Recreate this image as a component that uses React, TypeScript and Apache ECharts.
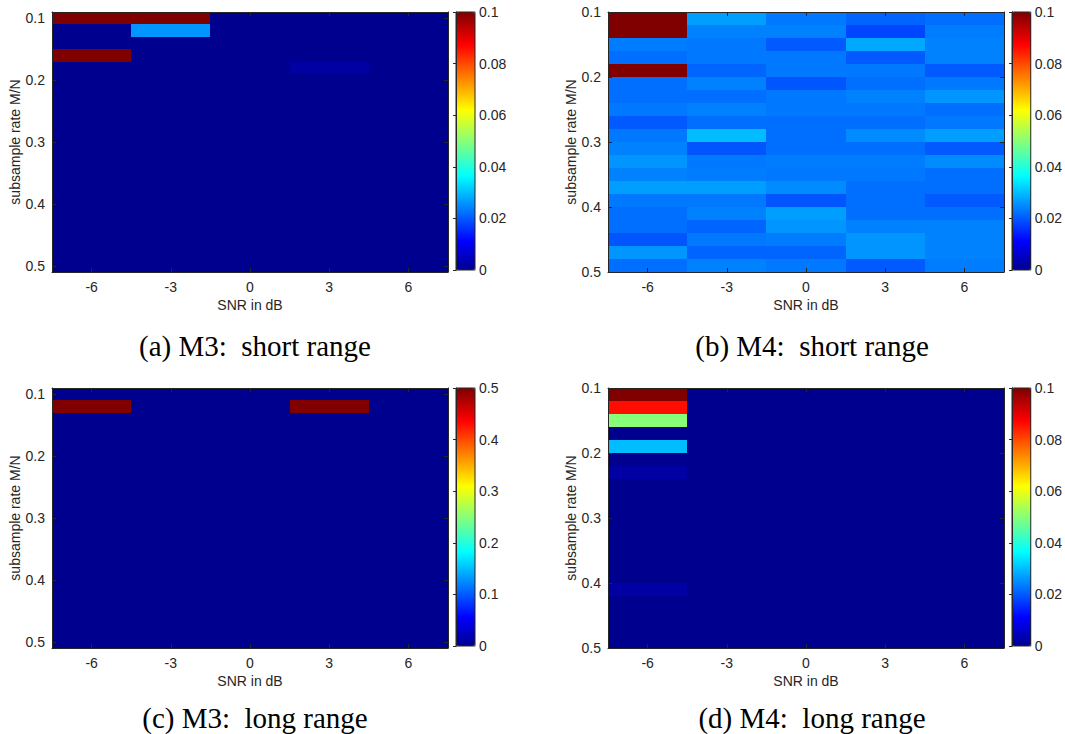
import React, { useEffect, useRef } from "react";
import * as echarts from "echarts";

// ---------- data ----------
const snr = [-6, -3, 0, 3, 6];
const snrTicks = [-6, -3, 0, 3, 6];
const rateTicks = [0.1, 0.2, 0.3, 0.4, 0.5];

// M3 panels: 21 rows centred on these rates
const ratesM3 = [0.1, 0.12, 0.14, 0.16, 0.18, 0.2, 0.22, 0.24, 0.26, 0.28, 0.3, 0.32, 0.34, 0.36, 0.38, 0.4, 0.42, 0.44, 0.46, 0.48, 0.5];
// M4 panels: 20 rows centred on these rates
const ratesM4 = [0.11, 0.13, 0.15, 0.17, 0.19, 0.21, 0.23, 0.25, 0.27, 0.29, 0.31, 0.33, 0.35, 0.37, 0.39, 0.41, 0.43, 0.45, 0.47, 0.49];

// rows top -> bottom, columns SNR -6, -3, 0, 3, 6
const m3Short = [
  [0.1, 0.1, 0, 0, 0],
  [0, 0.026, 0, 0, 0],
  [0, 0, 0, 0, 0],
  [0.1, 0, 0, 0, 0],
  [0, 0, 0, 0.002, 0],
  [0, 0, 0, 0, 0],
  [0, 0, 0, 0, 0],
  [0, 0, 0, 0, 0],
  [0, 0, 0, 0, 0],
  [0, 0, 0, 0, 0],
  [0, 0, 0, 0, 0],
  [0, 0, 0, 0, 0],
  [0, 0, 0, 0, 0],
  [0, 0, 0, 0, 0],
  [0, 0, 0, 0, 0],
  [0, 0, 0, 0, 0],
  [0, 0, 0, 0, 0],
  [0, 0, 0, 0, 0],
  [0, 0, 0, 0, 0],
  [0, 0, 0, 0, 0],
  [0, 0, 0, 0, 0],
];

const m4Short = [
  [0.1, 0.027, 0.023, 0.021, 0.022],
  [0.1, 0.024, 0.024, 0.018, 0.0235],
  [0.0235, 0.023, 0.02, 0.028, 0.024],
  [0.022, 0.023, 0.023, 0.02, 0.024],
  [0.1, 0.021, 0.023, 0.023, 0.02],
  [0.022, 0.024, 0.0195, 0.022, 0.023],
  [0.022, 0.022, 0.023, 0.024, 0.026],
  [0.023, 0.024, 0.023, 0.023, 0.022],
  [0.02, 0.022, 0.022, 0.022, 0.023],
  [0.023, 0.03, 0.022, 0.025, 0.027],
  [0.024, 0.0195, 0.022, 0.022, 0.02],
  [0.026, 0.023, 0.0235, 0.0235, 0.025],
  [0.024, 0.0235, 0.023, 0.023, 0.022],
  [0.027, 0.027, 0.025, 0.022, 0.022],
  [0.023, 0.023, 0.0195, 0.022, 0.02],
  [0.022, 0.024, 0.027, 0.022, 0.022],
  [0.022, 0.021, 0.026, 0.024, 0.024],
  [0.0195, 0.023, 0.0235, 0.026, 0.024],
  [0.026, 0.021, 0.021, 0.026, 0.024],
  [0.022, 0.024, 0.023, 0.02, 0.0235],
];

const m3Long = [
  [0, 0, 0, 0, 0],
  [0.5, 0, 0, 0.5, 0],
  [0, 0, 0, 0, 0],
  [0, 0, 0, 0, 0],
  [0, 0, 0, 0, 0],
  [0, 0, 0, 0, 0],
  [0, 0, 0, 0, 0],
  [0, 0, 0, 0, 0],
  [0, 0, 0, 0, 0],
  [0, 0, 0, 0, 0],
  [0, 0, 0, 0, 0],
  [0, 0, 0, 0, 0],
  [0, 0, 0, 0, 0],
  [0, 0, 0, 0, 0],
  [0, 0, 0, 0, 0],
  [0, 0, 0, 0, 0],
  [0, 0, 0, 0, 0],
  [0, 0, 0, 0, 0],
  [0, 0, 0, 0, 0],
  [0, 0, 0, 0, 0],
  [0, 0, 0, 0, 0],
];

const m4Long = [
  [0.1, 0, 0, 0, 0],
  [0.086, 0, 0, 0, 0],
  [0.05, 0, 0, 0, 0],
  [0, 0, 0, 0, 0],
  [0.03, 0, 0, 0, 0],
  [0, 0, 0, 0, 0],
  [0.002, 0, 0, 0, 0],
  [0, 0, 0, 0, 0],
  [0, 0, 0, 0, 0],
  [0, 0, 0, 0, 0],
  [0, 0, 0, 0, 0],
  [0, 0, 0, 0, 0],
  [0, 0, 0, 0, 0],
  [0, 0, 0, 0, 0],
  [0, 0, 0, 0, 0],
  [0.002, 0, 0, 0, 0],
  [0, 0, 0, 0, 0],
  [0, 0, 0, 0, 0],
  [0, 0, 0, 0, 0],
  [0, 0, 0, 0, 0],
];

const colorMaxes = [0.1, 0.1, 0.5, 0.1];
const colorIntervals = [0.02, 0.02, 0.1, 0.02];
const captions = ["(a) M3:  short range", "(b) M4:  short range", "(c) M3:  long range", "(d) M4:  long range"];

// ---------- MATLAB jet(64) colormap ----------
function jetColors(m: number): string[] {
  const n = Math.ceil(m / 4);
  const u: number[] = [];
  for (let i = 1; i <= n; i++) u.push(i / n);
  for (let i = 1; i < n; i++) u.push(1);
  for (let i = n; i >= 1; i--) u.push(i / n);
  const off = Math.ceil(n / 2) - (m % 4 === 1 ? 1 : 0);
  const rgb: number[][] = [];
  for (let i = 0; i < m; i++) rgb.push([0, 0, 0]);
  for (let k = 0; k < u.length; k++) {
    const g = off + k + 1;
    const r = g + n;
    const b = g - n;
    if (g >= 1 && g <= m) rgb[g - 1][1] = u[k];
    if (r >= 1 && r <= m) rgb[r - 1][0] = u[k];
    if (b >= 1 && b <= m) rgb[b - 1][2] = u[k];
  }
  const hex = (v: number) => Math.round(v * 255).toString(16).padStart(2, "0");
  return rgb.map((c) => "#" + hex(c[0]) + hex(c[1]) + hex(c[2]));
}
const JET = jetColors(64);

// ---------- layout ----------
const AX = "#262626";
const FONT = "Liberation Sans";
const panels = [
  { left: 52, top: 12, rates: ratesM3, values: m3Short, yMin: 0.09, yMax: 0.51 },
  { left: 608, top: 12, rates: ratesM4, values: m4Short, yMin: 0.1, yMax: 0.5 },
  { left: 52, top: 388, rates: ratesM3, values: m3Long, yMin: 0.09, yMax: 0.51 },
  { left: 608, top: 388, rates: ratesM4, values: m4Long, yMin: 0.1, yMax: 0.5 },
];
const PW = 396;
const PH = 260;
const CB_GAP = 404; // from plot left to colorbar left
const CBW = 19;
const CBH = 258;

function buildOption() {
  const grid: any[] = [];
  const xAxis: any[] = [];
  const yAxis: any[] = [];
  const series: any[] = [];
  const visualMap: any[] = [];
  const graphic: any[] = [];

  panels.forEach((p) => {
    grid.push({ left: p.left, top: p.top, width: PW, height: PH, show: false });
  });
  panels.forEach((p) => {
    grid.push({
      left: p.left + CB_GAP,
      top: p.top,
      width: CBW,
      height: CBH,
      show: true,
      borderColor: AX,
      borderWidth: 1,
      backgroundColor: "transparent",
      z: 10,
    });
  });

  panels.forEach((p, i) => {
    const dx = (snr[1] - snr[0]) / 2;
    const xBase = {
      type: "value",
      gridIndex: i,
      min: snr[0] - dx,
      max: snr[snr.length - 1] + dx,
      z: 10,
      axisLine: { show: true, onZero: false, lineStyle: { color: AX, width: 1 } },
      axisTick: { show: true, inside: true, length: 4, customValues: snrTicks, lineStyle: { color: AX } },
      splitLine: { show: false },
    };
    xAxis.push({
      ...xBase,
      position: "bottom",
      name: "SNR in dB",
      nameLocation: "middle",
      nameGap: 26,
      nameTextStyle: { color: AX, fontSize: 14, fontFamily: FONT },
      axisLabel: { show: true, customValues: snrTicks, margin: 8, color: AX, fontSize: 14, fontFamily: FONT },
    });
    xAxis.push({ ...xBase, position: "top", axisLabel: { show: false } });

    const yBase = {
      type: "value",
      gridIndex: i,
      min: p.yMin,
      max: p.yMax,
      inverse: true,
      z: 10,
      axisLine: { show: true, onZero: false, lineStyle: { color: AX, width: 1 } },
      axisTick: { show: true, inside: true, length: 4, customValues: rateTicks, lineStyle: { color: AX } },
      splitLine: { show: false },
    };
    yAxis.push({
      ...yBase,
      position: "left",
      name: "subsample rate M/N",
      nameLocation: "middle",
      nameGap: 28,
      nameTextStyle: { color: AX, fontSize: 14, fontFamily: FONT },
      axisLabel: { show: true, customValues: rateTicks, margin: 7, color: AX, fontSize: 14, fontFamily: FONT },
    });
    yAxis.push({ ...yBase, position: "right", axisLabel: { show: false } });
  });

  panels.forEach((p, i) => {
    xAxis.push({ type: "value", gridIndex: 4 + i, min: 0, max: 1, show: false });
    yAxis.push({
      type: "value",
      gridIndex: 4 + i,
      min: 0,
      max: colorMaxes[i],
      interval: colorIntervals[i],
      position: "right",
      z: 11,
      axisLine: { show: true, lineStyle: { color: AX, width: 1 } },
      axisTick: { show: true, inside: true, length: 3, lineStyle: { color: AX } },
      splitLine: { show: false },
      axisLabel: { show: true, margin: 4, color: AX, fontSize: 14, fontFamily: FONT },
    });
  });

  panels.forEach((p, i) => {
    const hx = (snr[1] - snr[0]) / 2;
    const hy = (p.rates[1] - p.rates[0]) / 2;
    const data: number[][] = [];
    p.values.forEach((row, r) => {
      row.forEach((v, c) => data.push([snr[c], p.rates[r], v]));
    });
    series.push({
      type: "custom",
      xAxisIndex: i * 2,
      yAxisIndex: i * 2,
      silent: true,
      clip: true,
      dimensions: ["snr", "rate", "value"],
      encode: { x: 0, y: 1 },
      data,
      renderItem: (params: any, api: any) => {
        const x = api.value(0);
        const y = api.value(1);
        const a = api.coord([x - hx, y - hy]);
        const b = api.coord([x + hx, y + hy]);
        const x0 = Math.round(Math.min(a[0], b[0]));
        const x1 = Math.round(Math.max(a[0], b[0]));
        const y0 = Math.round(Math.min(a[1], b[1]));
        const y1 = Math.round(Math.max(a[1], b[1]));
        const color = api.visual("color");
        return {
          type: "rect",
          shape: { x: x0, y: y0, width: x1 - x0, height: y1 - y0 },
          style: { fill: color, stroke: null, lineWidth: 0 },
        };
      },
    });
    visualMap.push({
      type: "continuous",
      seriesIndex: i,
      dimension: 2,
      min: 0,
      max: colorMaxes[i],
      inRange: { color: JET },
      orient: "vertical",
      left: p.left + CB_GAP,
      top: p.top,
      itemWidth: CBW,
      itemHeight: CBH,
      padding: 0,
      calculable: false,
      hoverLink: false,
      show: true,
      z: 4,
    });
  });

  const capPos = [
    [255, 346],
    [812, 346],
    [255, 718],
    [812, 718],
  ];
  captions.forEach((c, i) => {
    graphic.push({
      type: "text",
      x: capPos[i][0],
      y: capPos[i][1],
      style: {
        text: c,
        fontFamily: "Liberation Serif",
        fontSize: 29,
        fill: "#000",
        align: "center",
        verticalAlign: "middle",
      },
    });
  });

  return {
    animation: false,
    backgroundColor: "#fff",
    textStyle: { fontFamily: FONT },
    grid,
    xAxis,
    yAxis,
    visualMap,
    series,
    graphic,
  };
}

export default function App() {
  const ref = useRef<HTMLDivElement>(null);
  useEffect(() => {
    document.body.style.margin = "0";
    if (!ref.current) return;
    const chart = echarts.init(ref.current, undefined, { renderer: "svg" });
    chart.setOption(buildOption() as any);
    return () => chart.dispose();
  }, []);
  return <div ref={ref} style={{ width: 1065, height: 734 }} />;
}
